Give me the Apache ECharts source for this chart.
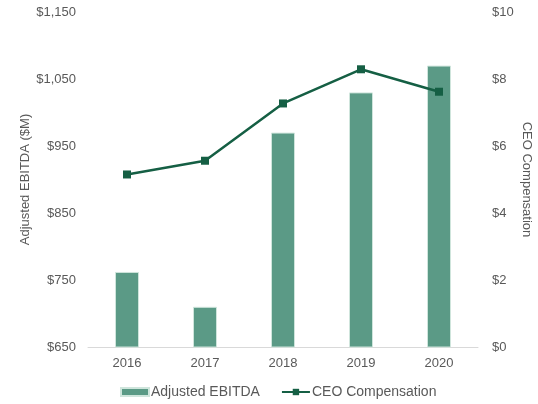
<!DOCTYPE html>
<html><head><meta charset="utf-8">
<script src="https://cdn.jsdelivr.net/npm/echarts@6/dist/echarts.min.js"></script>
<style>html,body{margin:0;padding:0;background:#fff}#c{width:538px;height:404px}</style>
</head><body><div id="c"></div>
<script>
const categories = ['2016','2017','2018','2019','2020'];
const ebitda = [762, 710, 970, 1030, 1070];
const ceoComp = [5.15, 5.56, 7.27, 8.29, 7.62];
const leftTicks = [650, 750, 850, 950, 1050, 1150];
const rightTicks = [0, 2, 4, 6, 8, 10];

const font = 'Liberation Sans, Arial, sans-serif';
const gray = '#595959';
const chart = echarts.init(document.getElementById('c'));
chart.setOption({
  animation: false,
  textStyle: {fontFamily: font},
  grid: {left: 88, right: 60, top: 12, bottom: 57, containLabel: false, outerBoundsMode: 'none'},
  legend: {
    bottom: 0, left: 115, itemGap: 21, itemWidth: 28, itemHeight: 8,
    textStyle: {color: gray, fontSize: 14, fontFamily: font, padding: [0,0,0,-3]},
    data: [{name: 'Adjusted EBITDA', icon: 'rect'}, {name: 'CEO Compensation'}]
  },
  xAxis: {
    type: 'category', data: categories,
    axisLine: {lineStyle: {color: '#d9d9d9'}},
    axisTick: {show: false},
    axisLabel: {color: gray, fontSize: 13, margin: 10}
  },
  yAxis: [{
    type: 'value', min: leftTicks[0], max: leftTicks[leftTicks.length-1], interval: 100,
    name: 'Adjusted EBITDA ($M)', nameLocation: 'middle', nameGap: 56, nameRotate: 90,
    nameMoveOverlap: false,
    nameTextStyle: {color: gray, fontSize: 13},
    splitLine: {show: false}, axisLine: {show: false}, axisTick: {show: false},
    axisLabel: {color: gray, fontSize: 13, margin: 12, formatter: v => '$' + v.toLocaleString('en-US')}
  }, {
    type: 'value', min: rightTicks[0], max: rightTicks[rightTicks.length-1], interval: 2,
    name: 'CEO Compensation', nameLocation: 'middle', nameGap: 42, nameRotate: -90,
    nameMoveOverlap: false,
    nameTextStyle: {color: gray, fontSize: 13},
    splitLine: {show: false}, axisLine: {show: false}, axisTick: {show: false},
    axisLabel: {color: gray, fontSize: 13, margin: 14, formatter: v => '$' + v}
  }],
  series: [{
    name: 'Adjusted EBITDA', type: 'bar', data: ebitda, barWidth: 24,
    itemStyle: {color: '#5b9a86', borderColor: '#cfe5dc', borderWidth: 1}
  }, {
    name: 'CEO Compensation', type: 'line', yAxisIndex: 1, data: ceoComp,
    symbol: 'rect', symbolSize: 8,
    lineStyle: {color: '#155f44', width: 2.5},
    itemStyle: {color: '#155f44'}
  }]
});
</script></body></html>
